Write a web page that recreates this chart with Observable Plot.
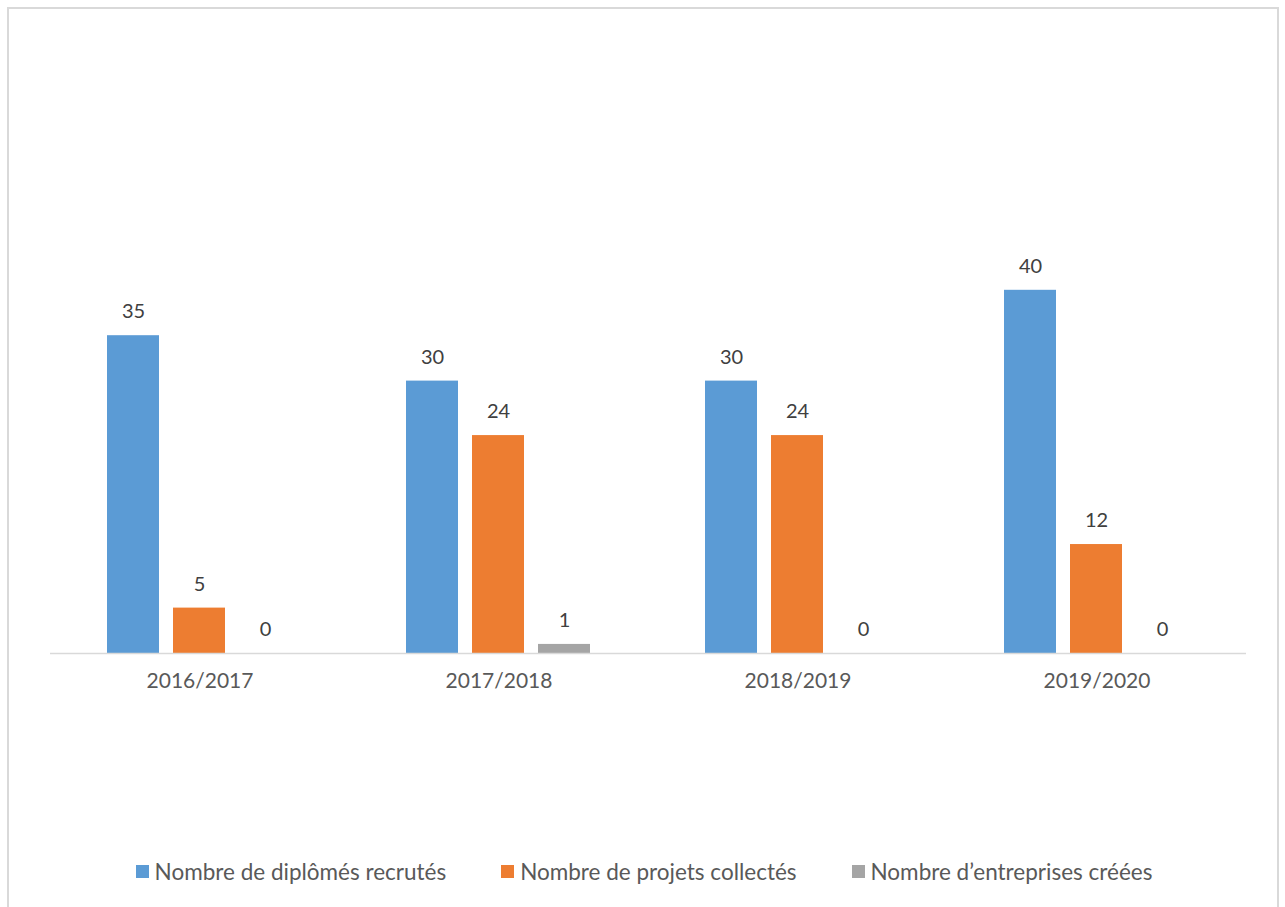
<!DOCTYPE html>
<html>
<head>
<meta charset="utf-8">
<script src="https://cdn.jsdelivr.net/npm/d3@7"></script>
<script src="https://cdn.jsdelivr.net/npm/@observablehq/plot@0.6"></script>
<style>
  html, body { margin: 0; padding: 0; background: #fff; }
  body { position: relative; width: 1285px; height: 907px; overflow: hidden; font-family: Lato, "Open Sans", sans-serif; }
  #frame { position: absolute; left: 7px; top: 7px; width: 1272px; height: 920px; border: 2px solid #D9D9D9; box-sizing: border-box; }
  #chart { position: absolute; left: 0; top: 0; }
  #legend { position: absolute; left: 7px; width: 1274px; top: 858px; display: flex; justify-content: center; gap: 55px; font-size: 22.5px; color: #595959; }
  .item { display: flex; align-items: center; }
  .sw { width: 13px; height: 13px; margin-right: 6px; display: inline-block; }
</style>
</head>
<body>
<div id="frame"></div>
<div id="chart"></div>
<div id="legend"></div>
<script>
const years = ["2016/2017", "2017/2018", "2018/2019", "2019/2020"];
const seriesNames = ["Nombre de diplômés recrutés", "Nombre de projets collectés", "Nombre d\u2019entreprises créées"];
const colors = ["#5B9BD5", "#ED7D31", "#A5A5A5"];
const diplomes = [35, 30, 30, 40];
const projets = [5, 24, 24, 12];
const entreprises = [0, 1, 0, 0];

const seriesValues = [diplomes, projets, entreprises];
const data = [];
years.forEach((yr, i) => {
  seriesNames.forEach((s, j) => data.push({ year: yr, series: s, value: seriesValues[j][i] }));
});

const chart = Plot.plot({
  width: 1285,
  height: 720,
  marginLeft: 49,
  marginRight: 39,
  marginTop: 199,
  marginBottom: 67,
  style: { fontFamily: "Lato, 'Open Sans', sans-serif", background: "transparent" },
  fx: { domain: years, padding: 0, label: null, axis: "bottom", tickSize: 0, tickPadding: 20 },
  x: { domain: seriesNames, paddingInner: 0.212, paddingOuter: 0.871, axis: null },
  y: { domain: [0, 50], axis: null },
  color: { domain: seriesNames, range: colors },
  marks: [
    Plot.barY(data, { fx: "year", x: "series", y: "value", fill: "series" }),
    Plot.ruleY([0], { stroke: "#D9D9D9", strokeWidth: 1.5 }),
    Plot.text(data, { fx: "year", x: "series", y: "value", text: d => String(d.value), dy: -24, fill: "#404040", fontSize: 20 })
  ]
});
const fxg = chart.querySelector('[aria-label="fx-axis tick label"]');
if (fxg) { fxg.setAttribute("fill", "#595959"); fxg.setAttribute("font-size", "21"); }
document.getElementById("chart").appendChild(chart);

const legend = document.getElementById("legend");
seriesNames.forEach((s, j) => {
  const item = document.createElement("div");
  item.className = "item";
  const sw = document.createElement("span");
  sw.className = "sw";
  sw.style.background = colors[j];
  const label = document.createElement("span");
  label.textContent = s;
  item.appendChild(sw);
  item.appendChild(label);
  legend.appendChild(item);
});
</script>
</body>
</html>
